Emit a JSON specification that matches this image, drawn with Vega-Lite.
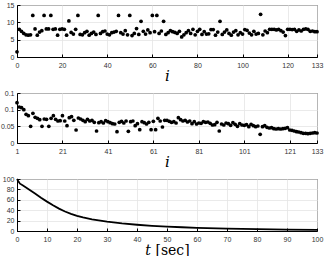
{
  "$schema": "https://vega.github.io/schema/vega-lite/v6.json",
  "autosize": "pad",
  "padding": {"left": -1, "top": 0, "right": 0, "bottom": 0},
  "background": "white",
  "bounds": "flush",
  "spacing": 36,
  "config": {
    "view": {"stroke": "black", "strokeWidth": 1},
    "axis": {
      "labelFont": "Liberation Sans",
      "labelFontSize": 7,
      "labelColor": "#333",
      "labelOverlap": false,
      "labelFlush": false,
      "gridColor": "#e4e4e4",
      "gridWidth": 0.8,
      "domainColor": "black",
      "tickColor": "black",
      "tickSize": -3,
      "labelPadding": 6,
      "titleFont": "DejaVu Serif",
      "titleFontWeight": "normal",
      "titleColor": "black"
    },
    "axisX": {"labelPadding": 7}
  },
  "datasets": {
    "top": [
      {"i":0,"v":1.5},{"i":1,"v":8.0},{"i":2,"v":7.4},{"i":3,"v":6.8},{"i":4,"v":6.4},{"i":5,"v":6.3},{"i":6,"v":6.4},{"i":7,"v":12.0},{"i":8,"v":8.1},{"i":9,"v":6.3},
      {"i":10,"v":7.2},{"i":11,"v":7.6},{"i":12,"v":12.0},{"i":13,"v":8.1},{"i":14,"v":8.1},{"i":15,"v":12.0},{"i":16,"v":8.0},{"i":17,"v":8.1},{"i":18,"v":6.3},{"i":19,"v":8.0},
      {"i":20,"v":8.1},{"i":21,"v":8.0},{"i":22,"v":6.3},{"i":23,"v":10.4},{"i":24,"v":7.1},{"i":25,"v":6.6},{"i":26,"v":8.0},{"i":27,"v":12.0},{"i":28,"v":6.5},{"i":29,"v":6.4},
      {"i":30,"v":7.0},{"i":31,"v":7.4},{"i":32,"v":6.3},{"i":33,"v":6.8},{"i":34,"v":7.2},{"i":35,"v":6.5},{"i":36,"v":12.0},{"i":37,"v":6.8},{"i":38,"v":7.3},{"i":39,"v":7.5},
      {"i":40,"v":6.6},{"i":41,"v":6.4},{"i":42,"v":7.0},{"i":43,"v":7.2},{"i":44,"v":7.4},{"i":45,"v":12.0},{"i":46,"v":7.0},{"i":47,"v":6.6},{"i":48,"v":7.6},{"i":49,"v":6.4},
      {"i":50,"v":12.0},{"i":51,"v":6.2},{"i":52,"v":6.8},{"i":53,"v":8.2},{"i":54,"v":6.5},{"i":55,"v":10.3},{"i":56,"v":7.4},{"i":57,"v":6.6},{"i":58,"v":7.8},{"i":59,"v":7.0},
      {"i":60,"v":12.0},{"i":61,"v":7.3},{"i":62,"v":12.0},{"i":63,"v":6.8},{"i":64,"v":7.5},{"i":65,"v":10.3},{"i":66,"v":6.5},{"i":67,"v":7.0},{"i":68,"v":7.6},{"i":69,"v":7.3},
      {"i":70,"v":7.1},{"i":71,"v":6.8},{"i":72,"v":7.4},{"i":73,"v":5.8},{"i":74,"v":6.4},{"i":75,"v":7.0},{"i":76,"v":7.6},{"i":77,"v":6.8},{"i":78,"v":8.0},{"i":79,"v":6.4},
      {"i":80,"v":7.4},{"i":81,"v":8.0},{"i":82,"v":6.5},{"i":83,"v":7.3},{"i":84,"v":6.6},{"i":85,"v":6.7},{"i":86,"v":7.9},{"i":87,"v":7.9},{"i":88,"v":6.3},{"i":89,"v":7.2},
      {"i":90,"v":10.3},{"i":91,"v":6.5},{"i":92,"v":7.2},{"i":93,"v":7.8},{"i":94,"v":6.8},{"i":95,"v":6.3},{"i":96,"v":7.2},{"i":97,"v":7.6},{"i":98,"v":6.4},{"i":99,"v":7.0},
      {"i":100,"v":6.6},{"i":101,"v":7.9},{"i":102,"v":7.7},{"i":103,"v":6.9},{"i":104,"v":6.4},{"i":105,"v":7.4},{"i":106,"v":6.6},{"i":107,"v":6.8},{"i":108,"v":12.3},{"i":109,"v":6.4},
      {"i":110,"v":7.5},{"i":111,"v":7.0},{"i":112,"v":8.0},{"i":113,"v":8.0},{"i":114,"v":8.0},{"i":115,"v":7.8},{"i":116,"v":8.0},{"i":117,"v":7.6},{"i":118,"v":7.2},{"i":119,"v":6.2},
      {"i":120,"v":8.0},{"i":121,"v":8.0},{"i":122,"v":7.9},{"i":123,"v":8.0},{"i":124,"v":7.4},{"i":125,"v":7.8},{"i":126,"v":7.5},{"i":127,"v":8.0},{"i":128,"v":8.1},{"i":129,"v":8.0},
      {"i":130,"v":7.4},{"i":131,"v":7.5},{"i":132,"v":7.3},{"i":133,"v":7.3}
    ],
    "mid": [
      {"i":1,"v":0.121},{"i":2,"v":0.108},{"i":3,"v":0.106},{"i":4,"v":0.100},{"i":5,"v":0.086},{"i":6,"v":0.082},{"i":7,"v":0.050},{"i":8,"v":0.089},{"i":9,"v":0.077},
      {"i":10,"v":0.074},{"i":11,"v":0.070},{"i":12,"v":0.050},{"i":13,"v":0.072},{"i":14,"v":0.071},{"i":15,"v":0.050},{"i":16,"v":0.074},{"i":17,"v":0.082},{"i":18,"v":0.071},{"i":19,"v":0.066},
      {"i":20,"v":0.067},{"i":21,"v":0.082},{"i":22,"v":0.066},{"i":23,"v":0.052},{"i":24,"v":0.076},{"i":25,"v":0.079},{"i":26,"v":0.068},{"i":27,"v":0.039},{"i":28,"v":0.075},{"i":29,"v":0.072},
      {"i":30,"v":0.068},{"i":31,"v":0.064},{"i":32,"v":0.071},{"i":33,"v":0.066},{"i":34,"v":0.068},{"i":35,"v":0.062},{"i":36,"v":0.036},{"i":37,"v":0.061},{"i":38,"v":0.064},{"i":39,"v":0.060},
      {"i":40,"v":0.067},{"i":41,"v":0.064},{"i":42,"v":0.061},{"i":43,"v":0.058},{"i":44,"v":0.057},{"i":45,"v":0.034},{"i":46,"v":0.062},{"i":47,"v":0.065},{"i":48,"v":0.060},{"i":49,"v":0.066},
      {"i":50,"v":0.035},{"i":51,"v":0.064},{"i":52,"v":0.066},{"i":53,"v":0.052},{"i":54,"v":0.058},{"i":55,"v":0.040},{"i":56,"v":0.064},{"i":57,"v":0.061},{"i":58,"v":0.057},{"i":59,"v":0.062},
      {"i":60,"v":0.040},{"i":61,"v":0.065},{"i":62,"v":0.040},{"i":63,"v":0.074},{"i":64,"v":0.066},{"i":65,"v":0.048},{"i":66,"v":0.068},{"i":67,"v":0.068},{"i":68,"v":0.065},{"i":69,"v":0.062},
      {"i":70,"v":0.064},{"i":71,"v":0.060},{"i":72,"v":0.076},{"i":73,"v":0.070},{"i":74,"v":0.066},{"i":75,"v":0.068},{"i":76,"v":0.063},{"i":77,"v":0.066},{"i":78,"v":0.058},{"i":79,"v":0.064},
      {"i":80,"v":0.057},{"i":81,"v":0.060},{"i":82,"v":0.059},{"i":83,"v":0.064},{"i":84,"v":0.062},{"i":85,"v":0.063},{"i":86,"v":0.059},{"i":87,"v":0.054},{"i":88,"v":0.055},{"i":89,"v":0.062},
      {"i":90,"v":0.036},{"i":91,"v":0.057},{"i":92,"v":0.054},{"i":93,"v":0.060},{"i":94,"v":0.058},{"i":95,"v":0.053},{"i":96,"v":0.061},{"i":97,"v":0.056},{"i":98,"v":0.050},{"i":99,"v":0.058},
      {"i":100,"v":0.054},{"i":101,"v":0.053},{"i":102,"v":0.055},{"i":103,"v":0.049},{"i":104,"v":0.056},{"i":105,"v":0.052},{"i":106,"v":0.049},{"i":107,"v":0.051},{"i":108,"v":0.026},{"i":109,"v":0.049},
      {"i":110,"v":0.052},{"i":111,"v":0.047},{"i":112,"v":0.045},{"i":113,"v":0.046},{"i":114,"v":0.043},{"i":115,"v":0.042},{"i":116,"v":0.043},{"i":117,"v":0.042},{"i":118,"v":0.043},{"i":119,"v":0.044},
      {"i":120,"v":0.046},{"i":121,"v":0.039},{"i":122,"v":0.038},{"i":123,"v":0.036},{"i":124,"v":0.034},{"i":125,"v":0.033},{"i":126,"v":0.031},{"i":127,"v":0.029},{"i":128,"v":0.029},{"i":129,"v":0.028},
      {"i":130,"v":0.029},{"i":131,"v":0.030},{"i":132,"v":0.031},{"i":133,"v":0.030}
    ],
    "bot": [
      {"t":0,"v":100},{"t":0.5,"v":95},{"t":1,"v":91},{"t":2,"v":87.5},{"t":4,"v":80},{"t":6,"v":72},{"t":8,"v":64},{"t":10,"v":56.5},
      {"t":12,"v":49.5},{"t":14,"v":43},{"t":16,"v":37.5},{"t":18,"v":33},{"t":20,"v":29},{"t":22,"v":26},{"t":25,"v":22.5},{"t":30,"v":18},
      {"t":35,"v":14.5},{"t":40,"v":12},{"t":45,"v":10},{"t":50,"v":8.5},{"t":55,"v":7.2},{"t":60,"v":6.2},{"t":70,"v":4.6},{"t":80,"v":3.5},
      {"t":90,"v":2.7},{"t":100,"v":2.0}
    ]
  },
  "vconcat": [
    {
      "width": 300,
      "height": 52,
      "data": {"name": "top"},
      "mark": {"type": "circle", "size": 14, "color": "black", "opacity": 1},
      "encoding": {
        "x": {"field": "i", "type": "quantitative", "scale": {"domain": [0, 133], "nice": false},
              "axis": {"values": [0, 20, 40, 60, 80, 100, 120, 133], "title": "𝑖", "titleFontSize": 15, "titlePadding": 0}},
        "y": {"field": "v", "type": "quantitative", "scale": {"domain": [0, 15], "nice": false},
              "axis": {"values": [0, 5, 10, 15], "title": null}}
      }
    },
    {
      "width": 300,
      "height": 50,
      "data": {"name": "mid"},
      "mark": {"type": "circle", "size": 14, "color": "black", "opacity": 1},
      "encoding": {
        "x": {"field": "i", "type": "quantitative", "scale": {"domain": [1, 133], "nice": false},
              "axis": {"values": [1, 21, 41, 61, 81, 101, 121, 133], "title": "𝑖", "titleFontSize": 15, "titlePadding": 0}},
        "y": {"field": "v", "type": "quantitative", "scale": {"domain": [0, 0.15], "nice": false},
              "axis": {"values": [0, 0.05, 0.1, 0.15], "format": "~g", "title": null}}
      }
    },
    {
      "width": 300,
      "height": 52,
      "data": {"name": "bot"},
      "mark": {"type": "line", "color": "black", "strokeWidth": 1.8},
      "encoding": {
        "x": {"field": "t", "type": "quantitative", "scale": {"domain": [0, 100], "nice": false},
              "axis": {"values": [0, 10, 20, 30, 40, 50, 60, 70, 80, 90, 100], "title": "𝑡 [sec]", "titleFontSize": 14, "titlePadding": 1}},
        "y": {"field": "v", "type": "quantitative", "scale": {"domain": [0, 100], "nice": false},
              "axis": {"values": [0, 20, 40, 60, 80, 100], "title": null}}
      }
    }
  ]
}
